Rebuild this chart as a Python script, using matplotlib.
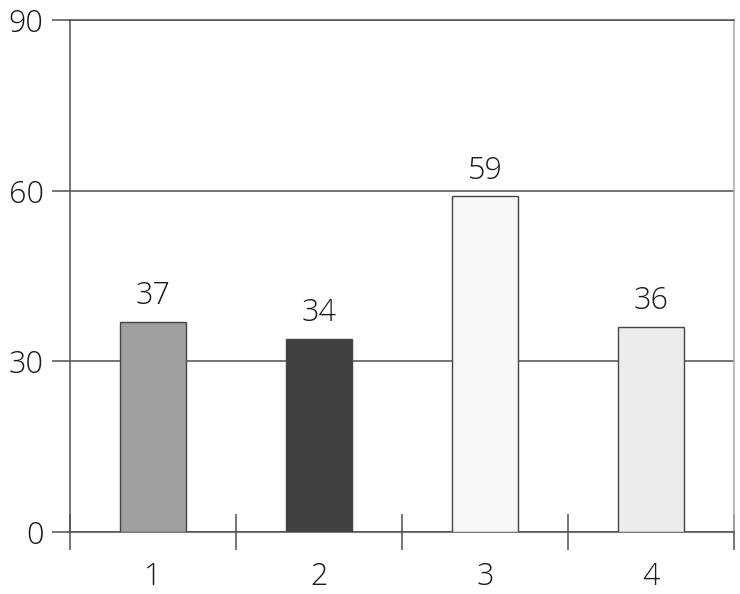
import matplotlib.pyplot as plt
import numpy as np

categories = ["1", "2", "3", "4"]
values = [37, 34, 59, 36]
bar_colors = ["#a0a0a0", "#404040", "#f7f7f7", "#ececec"]
y_ticks = [0, 30, 60, 90]

plt.rcParams['font.family'] = ['Open Sans', 'DejaVu Sans']

fig = plt.figure(figsize=(7.4, 5.94), dpi=100)
ax = fig.add_axes([70/740, 62/594, 664/740, 512/594])

x = np.arange(1, len(categories) + 1)
bars = ax.bar(x, values, width=0.4, color=bar_colors,
              edgecolor="#444444", linewidth=1.0, zorder=3)

for xi, v in zip(x, values):
    ax.annotate(str(v), (xi, v), xytext=(0, 7), textcoords="offset points",
                ha="center", va="bottom", fontsize=22, color="#1a1a1a",
                fontweight="light")

ax.set_xlim(0.5, 4.5)
ax.set_ylim(0, 90)

# horizontal grid lines
ax.set_yticks(y_ticks)
ax.yaxis.grid(True, color="#505050", linewidth=1.1, zorder=1)
ax.tick_params(axis="y", direction="out", length=13, width=1.1,
               color="#505050", labelsize=22, pad=6, labelcolor="#1a1a1a")

# category labels + boundary ticks
ax.set_xticks(x)
ax.set_xticklabels(categories)
ax.set_xticks([0.5, 1.5, 2.5, 3.5, 4.5], minor=True)
ax.tick_params(axis="x", which="major", length=0, labelsize=22, pad=21,
               labelcolor="#1a1a1a")
ax.tick_params(axis="x", which="minor", direction="inout", length=26,
               width=1.1, color="#505050")

for s in ["left", "bottom", "top"]:
    ax.spines[s].set_color("#505050")
    ax.spines[s].set_linewidth(1.1)
ax.spines["right"].set_color("#aaaaaa")
ax.spines["right"].set_linewidth(1.1)

for t in ax.get_xticklabels() + ax.get_yticklabels():
    t.set_fontweight("light")

fig.savefig("out.png", dpi=100)
